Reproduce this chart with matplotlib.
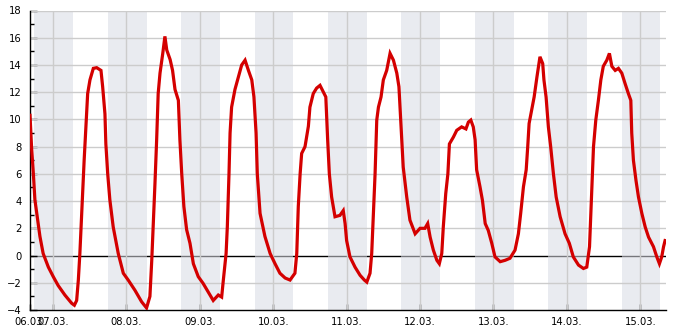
""" plot.py - temperature 06.03. - 15.03. """

import matplotlib
matplotlib.use("Agg")
import matplotlib.pyplot as plt
from matplotlib.ticker import MultipleLocator

# hours since 06.03. 00:00 and air temperature in degC
hours = [16.5, 17.0, 17.6, 18.1, 19.0, 19.75, 20.8, 22.5, 24.1, 25.7, 27.9, 30.1, 31.0, 31.75,
         32.3, 32.8, 33.6, 34.2, 34.8, 35.35, 36.1, 37.2, 38.3, 39.7, 40.25, 41.0, 41.3, 41.9,
         42.6, 43.7, 45.35, 47.0, 48.6, 50.8, 53.0, 54.6, 55.7, 56.3, 56.8, 57.35, 57.9, 58.4,
         59.0, 59.9, 60.6, 61.2, 62.3, 63.1, 63.9, 65.0, 65.5, 66.1, 66.8, 67.7, 68.8, 69.9,
         71.5, 73.1, 74.8, 76.4, 78.05, 79.15, 79.7, 80.6, 81.0, 81.55, 81.9, 82.4, 83.5, 84.6,
         85.7, 86.8, 87.9, 89.0, 89.7, 90.4, 90.8, 91.7, 93.3, 95.0, 96.6, 98.2, 99.9, 101.5,
         103.1, 103.7, 104.2, 104.8, 105.3, 106.4, 107.5, 108.0, 109.1, 110.2, 111.3, 112.4,
         113.2, 113.8, 114.35, 115.1, 116.2, 117.8, 118.9, 119.5, 120.0, 121.1, 122.75, 124.4,
         125.8, 126.6, 127.65, 128.2, 128.7, 129.3, 129.85, 130.4, 131.25, 132.0, 133.1, 134.2,
         135.3, 136.4, 137.1, 137.8, 138.5, 139.65, 140.7, 142.4, 144.0, 145.6, 146.5, 147.3,
         148.35, 149.5, 150.3, 151.1, 151.6, 152.4, 153.1, 153.6, 154.9, 156.0, 157.6, 159.0,
         159.8, 160.6, 161.4, 162.0, 162.5, 163.6, 164.4, 165.3, 166.3, 167.45, 168.5, 170.2,
         171.8, 173.4, 175.05, 176.15, 176.9, 177.8, 178.7, 179.2, 179.65, 180.5, 181.3, 182.2,
         183.2, 184.1, 184.5, 185.2, 185.95, 186.7, 187.6, 188.5, 189.8, 191.4, 192.8, 194.1,
         195.8, 197.4, 198.5, 199.4, 199.9, 200.3, 200.7, 201.45, 202.3, 203.1, 203.9, 205.05,
         205.9, 206.7, 207.8, 208.85, 209.95, 211.0, 212.1, 212.9, 213.2, 213.75, 214.6, 215.4,
         216.5, 217.6, 218.7, 220.3, 221.4, 222.25, 223.0, 223.6, 224.1]
temps = [10.3, 8.0, 6.0, 4.1, 2.6, 1.4, 0.15, -0.85, -1.55, -2.2, -2.9, -3.5, -3.65, -3.3,
         -1.8, 0.15, 4.1, 7.0, 9.5, 11.9, 12.9, 13.75, 13.8, 13.6, 12.4, 10.4, 8.2, 6.0,
         4.1, 2.1, 0.15, -1.3, -1.8, -2.55, -3.4, -3.85, -3.0, -0.35, 2.3, 5.3, 8.5, 11.9,
         13.4, 14.85, 16.1, 15.1, 14.4, 13.6, 12.2, 11.4, 8.5, 6.0, 3.6, 1.9, 0.9, -0.6,
         -1.55, -2.05, -2.7, -3.3, -2.9, -3.05, -1.8, 0.15, 2.1, 6.0, 9.0, 10.9, 12.2, 13.1,
         14.0, 14.35, 13.6, 12.9, 11.65, 9.0, 6.0, 3.1, 1.4, 0.15, -0.6, -1.3, -1.65, -1.8,
         -1.3, 0.15, 3.6, 6.0, 7.5, 8.0, 9.5, 10.9, 11.9, 12.3, 12.5, 12.0,
         11.65, 8.5, 6.0, 4.3, 2.85, 2.95, 3.3, 2.35, 1.1, -0.1, -0.85, -1.45,
         -1.8, -1.95, -1.3, 0.15, 2.85, 6.0, 9.95, 10.9, 11.65, 12.9, 13.6, 14.85,
         14.35, 13.4, 12.4, 9.5, 6.5, 4.3, 2.6, 1.6, 2.0, 2.0, 2.35, 1.35,
         0.4, -0.35, -0.6, 0.15, 2.1, 4.55, 6.0, 8.2, 8.7, 9.2, 9.45, 9.3,
         9.8, 9.95, 9.45, 8.5, 6.3, 5.05, 4.05, 2.35, 1.85, 0.9, -0.1, -0.45,
         -0.35, -0.2, 0.4, 1.6, 3.1, 5.05, 6.3, 8.0, 9.7, 10.7, 11.65, 13.1,
         14.6, 14.1, 12.9, 11.65, 9.45, 8.0, 6.0, 4.3, 2.85, 1.6, 0.9, -0.1,
         -0.7, -0.95, -0.85, 0.65, 3.55, 6.0, 8.0, 9.95, 11.4, 12.9, 13.9, 14.35,
         14.85, 13.9, 13.6, 13.75, 13.4, 12.65, 11.9, 11.4, 9.0, 7.0, 5.5, 4.3,
         3.1, 2.1, 1.35, 0.65, -0.1, -0.6, -0.1, 0.65, 1.1]

# night periods (hours since 06.03. 00:00)
night_start = [17.9, 41.9, 65.9, 89.9, 113.9, 137.9, 161.9, 185.9, 209.9]
night_end = [30.6, 54.6, 78.6, 102.6, 126.6, 150.6, 174.6, 198.6, 222.6]

tick_pos = [16.5, 24, 48, 72, 96, 120, 144, 168, 192, 216]
tick_lab = ["06.03.", "07.03.", "08.03.", "09.03.", "10.03.", "11.03.", "12.03.",
            "13.03.", "14.03.", "15.03."]

fig = plt.figure(figsize=(6.85, 3.3), dpi=100)
ax = fig.add_axes([30 / 685, 1 - 310 / 330, 636 / 685, 299.5 / 330])

# zero line first, the night bands sit over it
ax.axhline(0, color="black", lw=1, zorder=1)
for a, b in zip(night_start, night_end):
    ax.axvspan(a, b, color="#d8dbe4", alpha=0.55, lw=0, zorder=1.5)

for t in tick_pos[1:]:
    ax.axvline(t, color="#cccccc", lw=1, zorder=2)
for v in range(-2, 19, 2):
    if v != 0:
        ax.axhline(v, color="#cccccc", lw=1, zorder=2)

ax.plot(hours, temps, color="#d40000", lw=2.3, zorder=3, solid_joinstyle="miter")

ax.set_xlim(16.5, 224.4)
ax.set_ylim(-4, 18)
ax.yaxis.set_major_locator(MultipleLocator(2))
ax.yaxis.set_minor_locator(MultipleLocator(1))
ax.set_xticks(tick_pos)
ax.set_xticklabels(tick_lab)

for s in ["top", "right"]:
    ax.spines[s].set_visible(False)
ax.spines["left"].set_linewidth(1)
ax.spines["bottom"].set_linewidth(1)

ax.tick_params(axis="y", which="major", direction="in", length=5, width=1, labelsize=7.2, pad=6)
ax.tick_params(axis="y", which="minor", direction="in", length=3, width=1)
ax.tick_params(axis="x", direction="in", length=4, width=1, labelsize=7.2, pad=5)

fig.savefig("out.png", dpi=100)
